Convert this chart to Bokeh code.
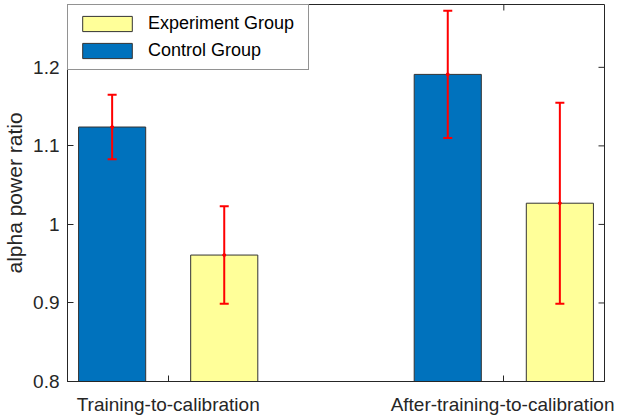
import math
from bokeh.plotting import figure
from bokeh.models import (ColumnDataSource, Range1d, FixedTicker, LinearAxis, Whisker, TeeHead,
                          Legend, LegendItem, CustomJSTickFormatter)
from bokeh.transform import dodge
from bokeh.embed import file_html
from bokeh.resources import INLINE

# ---- data ----
categories = ["Training-to-calibration", "After-training-to-calibration"]
control_mean = [1.124, 1.191]
control_err = [0.041, 0.081]
experiment_mean = [0.961, 1.027]
experiment_err = [0.062, 0.128]
y_ticks = [0.8, 0.9, 1.0, 1.1, 1.2]

BLUE = "#0072BD"
YELLOW = "#FFFF99"
EDGE = "#333333"
AXC = "#262626"
RED = "#FF0000"
FONT = "Liberation Sans"

xs = [i + 1 for i in range(len(categories))]
ctrl = ColumnDataSource(dict(x=xs, top=control_mean,
                             upper=[m + e for m, e in zip(control_mean, control_err)],
                             lower=[m - e for m, e in zip(control_mean, control_err)]))
expt = ColumnDataSource(dict(x=xs, top=experiment_mean,
                             upper=[m + e for m, e in zip(experiment_mean, experiment_err)],
                             lower=[m - e for m, e in zip(experiment_mean, experiment_err)]))

p = figure(width=614, height=419, output_backend="svg", toolbar_location=None,
           x_range=Range1d(0.7, 2.3), y_range=Range1d(0.8, 1.28),
           min_border_left=62, min_border_right=10, min_border_top=4, min_border_bottom=38,
           x_axis_location=None, y_axis_location=None)
p.grid.visible = False
p.outline_line_color = AXC
p.outline_line_width = 1
p.background_fill_color = "white"
p.border_fill_color = "white"

OFF = 0.167
W = 0.2
r_ctrl = p.vbar(x=dodge("x", -OFF, range=p.x_range), top="top", bottom=0.8, width=W, source=ctrl,
                fill_color=BLUE, line_color=EDGE, line_width=1)
r_expt = p.vbar(x=dodge("x", OFF, range=p.x_range), top="top", bottom=0.8, width=W, source=expt,
                fill_color=YELLOW, line_color=EDGE, line_width=1)

for src, off in ((ctrl, -OFF), (expt, OFF)):
    w = Whisker(source=src, base=dodge("x", off, range=p.x_range), upper="upper", lower="lower",
                line_color=RED, line_width=2, level="overlay",
                upper_head=TeeHead(size=9, line_color=RED, line_width=2),
                lower_head=TeeHead(size=9, line_color=RED, line_width=2))
    p.add_layout(w)
    p.scatter(x=dodge("x", off, range=p.x_range), y="top", source=src, size=3,
              fill_color=RED, line_color=RED)

# inward ticks on the right and top edges of the box
p.scatter(x=[p.x_range.end] * len(y_ticks), y=y_ticks, marker="dash", size=12,
          line_color=AXC, line_width=1)
p.scatter(x=xs, y=[p.y_range.end] * len(xs), marker="dash", angle=math.pi / 2, size=12,
          line_color=AXC, line_width=1)

fmt = CustomJSTickFormatter(code="return String(Number(tick.toFixed(2)));")

def style(ax):
    ax.axis_line_color = AXC
    ax.axis_line_width = 1
    ax.major_tick_line_color = AXC
    ax.major_tick_in = 6
    ax.major_tick_out = 0
    ax.minor_tick_line_color = None
    ax.major_label_text_color = AXC
    ax.major_label_text_font = FONT
    ax.major_label_text_font_size = "19px"

left = LinearAxis(ticker=FixedTicker(ticks=y_ticks), formatter=fmt)
style(left)
left.major_label_standoff = 8
left.axis_label = "alpha power ratio"
left.axis_label_text_font = FONT
left.axis_label_text_font_size = "21px"
left.axis_label_text_font_style = "normal"
left.axis_label_text_color = AXC
left.axis_label_standoff = 4
p.add_layout(left, "left")

bottom = LinearAxis(ticker=FixedTicker(ticks=xs),
                    major_label_overrides={x: c for x, c in zip(xs, categories)})
style(bottom)
bottom.major_label_standoff = 12
p.add_layout(bottom, "below")

legend = Legend(items=[LegendItem(label="Experiment Group", renderers=[r_expt]),
                       LegendItem(label="Control Group", renderers=[r_ctrl])],
                location="top_left", margin=0, padding=8, spacing=6,
                glyph_width=62, glyph_height=19, label_standoff=10, label_width=152,
                label_text_font=FONT, label_text_font_size="18px", label_text_color="#000000",
                border_line_color=AXC, border_line_width=1, background_fill_alpha=1)
p.add_layout(legend)

open("out.html", "w").write(file_html(p, INLINE))
